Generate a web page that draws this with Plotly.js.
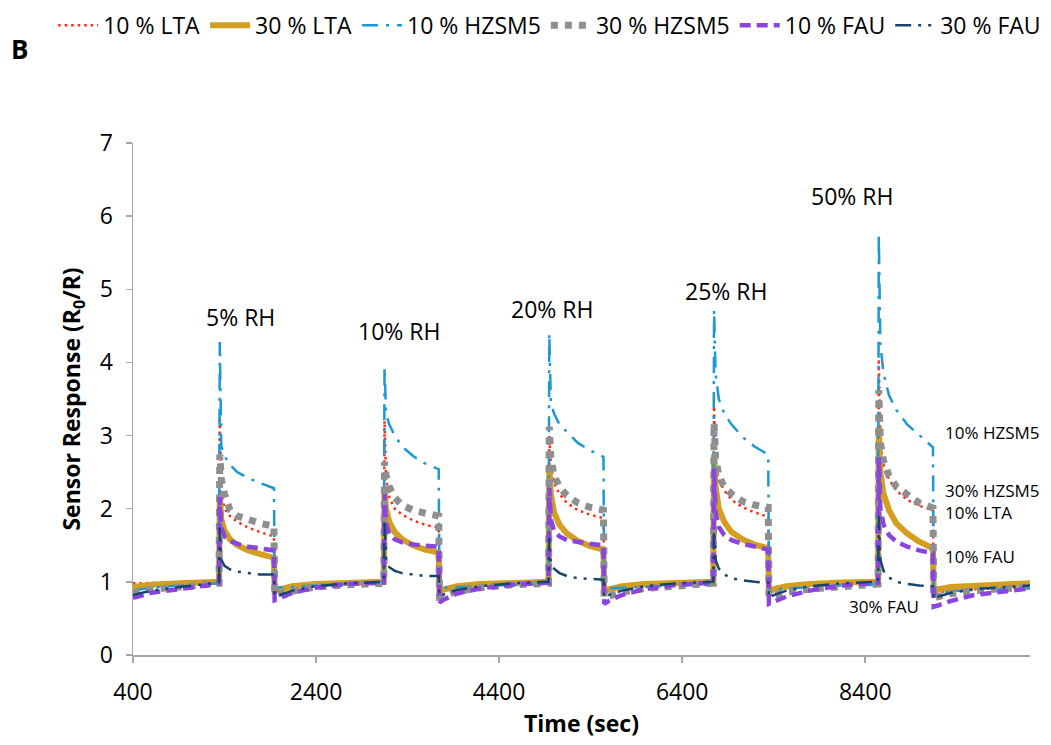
<!DOCTYPE html>
<html>
<head>
<meta charset="utf-8">
<script src="https://cdn.plot.ly/plotly-3.0.1.min.js"></script>
<style>html,body{margin:0;padding:0;background:#fff;}#chart{width:1051px;height:745px;}</style>
</head>
<body>
<div id="chart"></div>
<script>
// Time (sec)
const time = [400, 600, 900, 1200,
  1340, 1348, 1365, 1400, 1460, 1540, 1660, 1790, 1940, 1948, 2000, 2140, 2390, 2740,
  3140, 3148, 3165, 3200, 3260, 3340, 3460, 3590, 3740, 3748, 3800, 3940, 4190, 4540,
  4940, 4948, 4965, 5000, 5060, 5140, 5260, 5390, 5540, 5548, 5600, 5740, 5990, 6340,
  6740, 6748, 6765, 6800, 6860, 6940, 7060, 7190, 7340, 7348, 7400, 7540, 7790, 8140,
  8540, 8548, 8565, 8600, 8660, 8740, 8860, 8990, 9140, 9148, 9200, 9340, 9590, 9940,
  10200];

const lta10 = [0.98, 0.98, 0.99, 1.0,
  1.0, 3.3, 2.2, 2.0, 1.9, 1.82, 1.74, 1.68, 1.62, 0.9, 0.91, 0.94, 0.97, 0.99,
  1.0, 3.2, 2.4, 2.15, 2.0, 1.92, 1.84, 1.78, 1.74, 0.9, 0.91, 0.94, 0.97, 0.99,
  1.0, 3.0, 2.6, 2.35, 2.2, 2.08, 1.98, 1.92, 1.87, 0.88, 0.89, 0.92, 0.96, 0.98,
  1.0, 3.4, 2.6, 2.4, 2.25, 2.12, 2.02, 1.95, 1.89, 0.86, 0.88, 0.92, 0.96, 0.98,
  1.0, 4.05, 2.9, 2.6, 2.4, 2.25, 2.12, 2.04, 1.98, 0.85, 0.86, 0.88, 0.9, 0.92,
  0.93];

const lta30 = [0.93, 0.96, 0.98, 0.99,
  1.0, 2.2, 1.85, 1.7, 1.58, 1.5, 1.43, 1.38, 1.33, 0.88, 0.9, 0.94, 0.97, 0.99,
  1.0, 2.26, 2.0, 1.82, 1.68, 1.58, 1.5, 1.44, 1.4, 0.88, 0.9, 0.94, 0.97, 0.99,
  1.0, 2.6, 2.2, 1.95, 1.78, 1.66, 1.56, 1.49, 1.44, 0.88, 0.9, 0.94, 0.97, 0.99,
  1.0, 2.74, 2.3, 2.0, 1.82, 1.68, 1.58, 1.51, 1.46, 0.87, 0.9, 0.94, 0.97, 0.99,
  1.0, 3.12, 2.5, 2.2, 1.98, 1.8, 1.66, 1.55, 1.46, 0.88, 0.9, 0.93, 0.95, 0.97,
  0.98];

const hzsm10 = [0.88, 0.92, 0.95, 0.97,
  0.98, 4.28, 2.85, 2.72, 2.6, 2.5, 2.42, 2.35, 2.28, 0.92, 0.92, 0.93, 0.95, 0.97,
  0.98, 3.94, 3.3, 3.15, 3.0, 2.85, 2.72, 2.62, 2.54, 0.92, 0.92, 0.93, 0.94, 0.96,
  0.97, 4.4, 3.45, 3.3, 3.15, 3.05, 2.9, 2.8, 2.71, 0.91, 0.91, 0.92, 0.93, 0.95,
  0.96, 4.72, 3.85, 3.5, 3.3, 3.15, 2.98, 2.85, 2.74, 0.9, 0.9, 0.91, 0.93, 0.95,
  0.96, 5.77, 4.25, 3.85, 3.55, 3.35, 3.15, 3.0, 2.84, 0.85, 0.85, 0.87, 0.89, 0.9,
  0.91];

const hzsm30 = [0.85, 0.9, 0.93, 0.96,
  0.98, 2.74, 2.4, 2.2, 1.98, 1.9, 1.84, 1.8, 1.76, 0.82, 0.84, 0.88, 0.93, 0.96,
  0.98, 2.64, 2.45, 2.3, 2.15, 2.05, 1.98, 1.94, 1.9, 0.8, 0.82, 0.87, 0.92, 0.96,
  0.98, 3.12, 2.7, 2.45, 2.3, 2.18, 2.08, 2.02, 1.98, 0.78, 0.8, 0.86, 0.91, 0.95,
  0.98, 3.17, 2.7, 2.45, 2.3, 2.2, 2.1, 2.05, 2.02, 0.8, 0.82, 0.86, 0.9, 0.94,
  0.97, 3.62, 2.9, 2.65, 2.45, 2.3, 2.18, 2.08, 2.01, 0.78, 0.8, 0.84, 0.88, 0.91,
  0.93];

const fau10 = [0.78, 0.85, 0.9, 0.95,
  0.99, 2.16, 1.75, 1.62, 1.56, 1.52, 1.48, 1.45, 1.43, 0.75, 0.78, 0.85, 0.92, 0.97,
  0.99, 2.2, 1.8, 1.65, 1.58, 1.54, 1.51, 1.49, 1.48, 0.72, 0.76, 0.84, 0.91, 0.96,
  0.99, 2.28, 1.85, 1.7, 1.62, 1.57, 1.54, 1.52, 1.5, 0.7, 0.74, 0.82, 0.9, 0.96,
  0.99, 2.55, 1.95, 1.75, 1.64, 1.57, 1.52, 1.48, 1.44, 0.7, 0.73, 0.8, 0.88, 0.95,
  0.99, 2.7, 2.0, 1.78, 1.64, 1.55, 1.48, 1.43, 1.39, 0.66, 0.68, 0.74, 0.82, 0.88,
  0.91];

const fau30 = [0.82, 0.88, 0.93, 0.97,
  1.0, 1.74, 1.3, 1.22, 1.17, 1.14, 1.12, 1.1, 1.1, 0.8, 0.82, 0.88, 0.94, 0.98,
  1.0, 1.85, 1.3, 1.2, 1.15, 1.12, 1.1, 1.08, 1.08, 0.8, 0.83, 0.89, 0.94, 0.98,
  1.0, 1.6, 1.25, 1.18, 1.12, 1.08, 1.05, 1.04, 1.03, 0.78, 0.82, 0.88, 0.94, 0.98,
  1.0, 1.7, 1.3, 1.18, 1.1, 1.05, 1.02, 1.0, 0.99, 0.78, 0.82, 0.88, 0.94, 0.98,
  1.0, 1.9, 1.3, 1.15, 1.06, 1.0, 0.97, 0.95, 0.94, 0.76, 0.8, 0.85, 0.9, 0.93,
  0.95];

const seriesNames = ['10 % LTA', '30 % LTA', '10 % HZSM5', '30 % HZSM5', '10 % FAU', '30 % FAU'];
const xTicks = [400, 2400, 4400, 6400, 8400];

// Pulse labels
const rhLabels = ['5% RH', '10% RH', '20% RH', '25% RH', '50% RH'];
const rhLabelX = [1569, 3306, 4978, 6879, 8255];
const rhLabelY = [4.62, 4.43, 4.73, 4.98, 6.28];

// End-of-curve labels
const endLabels = ['10% HZSM5', '30% HZSM5', '10% LTA', '10% FAU', '30% FAU'];
const endLabelX = [9250, 9250, 9250, 9250, 8201];
const endLabelY = [3.04, 2.25, 1.95, 1.34, 0.66];

const FONT = 'Open Sans, Liberation Sans, sans-serif';

const styles = [
  {color: '#ff2b0f', width: 2.5, dash: '2.5px,4px'},
  {color: '#d49f1e', width: 6, dash: 'solid'},
  {color: '#1d98d5', width: 2.5, dash: '16px,8px,3px,8px'},
  {color: '#8f8f8f', width: 7, dash: '7px,7px'},
  {color: '#8b45df', width: 4.5, dash: '11px,6px'},
  {color: '#16456f', width: 2.5, dash: '16px,7px,3px,7px,3px,7px'}
];
const values = [lta10, lta30, hzsm10, hzsm30, fau10, fau30];

const traces = values.map((v, i) => ({
  type: 'scatter', mode: 'lines', x: time, y: v, name: seriesNames[i],
  line: styles[i], hoverinfo: 'skip'
}));

const annotations = [];
rhLabels.forEach((t, i) => annotations.push({
  x: rhLabelX[i], y: rhLabelY[i], xref: 'x', yref: 'y', text: t, showarrow: false,
  xanchor: 'center', yanchor: 'middle', font: {family: FONT, size: 23, color: '#000'}
}));
endLabels.forEach((t, i) => annotations.push({
  x: endLabelX[i], y: endLabelY[i], xref: 'x', yref: 'y', text: t, showarrow: false,
  xanchor: 'left', yanchor: 'middle', font: {family: FONT, size: 17, color: '#000'}
}));
annotations.push({
  x: (20 - 133) / 897, y: (655 - 49) / 512, xref: 'paper', yref: 'paper', text: '<b>B</b>', showarrow: false,
  font: {family: FONT, size: 26, color: '#000'}, xanchor: 'center', yanchor: 'middle'
});

const layout = {
  width: 1051, height: 745,
  margin: {l: 133, r: 21, t: 143, b: 90, autoexpand: false},
  paper_bgcolor: '#fff', plot_bgcolor: '#fff',
  font: {family: FONT, size: 23, color: '#000'},
  showlegend: true,
  legend: {
    orientation: 'h', x: -0.089, xanchor: 'left', y: 1.272, yanchor: 'top',
    font: {family: FONT, size: 23, color: '#000'}, itemwidth: 40,
    bgcolor: 'rgba(0,0,0,0)', tracegroupgap: 0
  },
  xaxis: {
    range: [400, 10200], tickvals: xTicks, ticktext: xTicks.map(String),
    ticks: 'outside', ticklen: 6, tickcolor: '#a6a6a6', tickwidth: 1.5,
    showline: true, linecolor: '#a6a6a6', linewidth: 1.5,
    showgrid: false, zeroline: false, ticklabelstandoff: 10,
    tickfont: {family: FONT, size: 23, color: '#000'},
    title: {text: '<b>Time (sec)</b>', font: {family: FONT, size: 23, color: '#000'}, standoff: 8}
  },
  yaxis: {
    range: [0, 7], dtick: 1, tick0: 0,
    ticks: 'outside', ticklen: 6, tickcolor: '#a6a6a6', tickwidth: 1.5,
    showline: true, linecolor: '#a6a6a6', linewidth: 1.5,
    showgrid: false, zeroline: false, ticklabelstandoff: 8,
    tickfont: {family: FONT, size: 23, color: '#000'},
    title: {text: '<b>Sensor Response (R<sub>0</sub>/R)</b>', font: {family: FONT, size: 23, color: '#000'}, standoff: 12}
  },
  annotations: annotations
};

Plotly.newPlot('chart', traces, layout, {staticPlot: true, displayModeBar: false});
</script>
</body>
</html>
